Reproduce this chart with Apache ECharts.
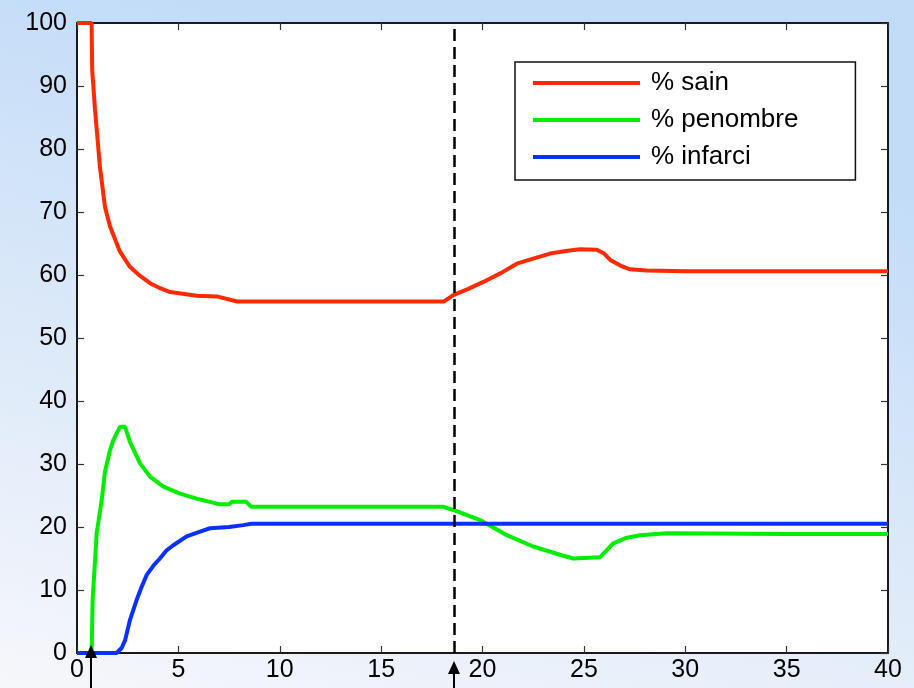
<!DOCTYPE html>
<html>
<head>
<meta charset="utf-8">
<script src="https://cdn.jsdelivr.net/npm/echarts@6/dist/echarts.min.js"></script>
<style>html,body{margin:0;padding:0;}#c{width:914px;height:688px;}</style>
</head>
<body>
<div id="c"></div>
<script>
// ---- data ----
const seriesNames = ['% sain', '% penombre', '% infarci'];
const sainX = [0, 0.72, 0.75, 0.89, 1.13, 1.38, 1.63, 2.12, 2.61, 3.1, 3.6, 4.1, 4.59, 5.9, 6.89, 7.9, 10, 15, 18.1, 18.56, 19.3, 20.04, 20.9, 21.69, 22.5, 23.33, 24.1, 24.8, 25.63, 26.0, 26.3, 26.8, 27.27, 28.1, 30, 35, 40];
const sainY = [100, 100, 92.5, 86.2, 77.2, 70.8, 67.7, 63.7, 61.3, 59.9, 58.7, 57.9, 57.3, 56.7, 56.6, 55.8, 55.8, 55.8, 55.8, 56.8, 57.8, 58.9, 60.3, 61.8, 62.6, 63.4, 63.8, 64.1, 64.0, 63.4, 62.4, 61.5, 60.9, 60.7, 60.6, 60.6, 60.6];
const penX = [0, 0.72, 0.77, 0.97, 1.22, 1.38, 1.63, 1.79, 2.12, 2.37, 2.61, 3.11, 3.6, 4.26, 5.08, 5.9, 7.05, 7.5, 7.65, 8.35, 8.6, 10, 15, 18.07, 18.56, 19.88, 21.2, 22.5, 23.82, 24.48, 25.8, 26.45, 27.11, 27.77, 29.08, 35, 40];
const penY = [0, 0, 8.4, 19, 24.3, 28.8, 32.2, 33.8, 35.9, 35.9, 33.5, 30.1, 28, 26.4, 25.3, 24.5, 23.6, 23.6, 24.0, 24.0, 23.2, 23.2, 23.2, 23.2, 22.7, 21.1, 18.7, 16.9, 15.6, 15.0, 15.2, 17.4, 18.3, 18.7, 19.0, 18.9, 18.9];
const infX = [0, 1.95, 2.2, 2.37, 2.61, 2.94, 3.2, 3.44, 3.8, 4.09, 4.42, 4.75, 5.41, 6.0, 6.56, 7.5, 8.2, 8.6, 40];
const infY = [0, 0, 0.8, 2, 5.2, 8.4, 10.6, 12.4, 14.0, 15.0, 16.3, 17.1, 18.5, 19.2, 19.8, 20.0, 20.3, 20.5, 20.5];
const switchX = 18.6;          // dashed vertical line
const arrowX = [0.7, 18.6];    // arrows under the x axis
const xTicks = { min: 0, max: 40, interval: 5 };
const yTicks = { min: 0, max: 100, interval: 10 };

const colors = ['#ff2a00', '#00ee00', '#0a30ff'];
const pairs = (xs, ys) => xs.map((x, i) => [x, ys[i]]);

const chart = echarts.init(document.getElementById('c'), null, { renderer: 'canvas' });
const FONT = 'Liberation Sans, Arial, Helvetica, sans-serif';
function axisBase(extra) {
  return Object.assign({
    type: 'value',
    axisLine: { show: true, onZero: false, lineStyle: { color: '#1a1a1a', width: 2 } },
    axisTick: { show: true, inside: true, length: 7, lineStyle: { color: '#333', width: 1.2 } },
    splitLine: { show: false }
  }, extra);
}
chart.setOption({
  backgroundColor: new echarts.graphic.LinearGradient(0.2, 0, 0, 1, [
    { offset: 0, color: '#c2dcf8' },
    { offset: 0.5, color: '#dce9f9' },
    { offset: 1, color: '#f6f7fb' }
  ]),
  animation: false,
  grid: { left: 77, right: 26, top: 23, bottom: 35, show: false, containLabel: false },
  xAxis: [
    axisBase({ position: 'bottom', min: xTicks.min, max: xTicks.max, interval: xTicks.interval,
      axisLabel: { color: '#000', fontSize: 25, fontFamily: FONT, margin: 5 } }),
    axisBase({ position: 'top', min: xTicks.min, max: xTicks.max, interval: xTicks.interval,
      axisLabel: { show: false } })
  ],
  yAxis: [
    axisBase({ position: 'left', min: yTicks.min, max: yTicks.max, interval: yTicks.interval,
      axisLabel: { color: '#000', fontSize: 25, fontFamily: FONT, margin: 10 } }),
    axisBase({ position: 'right', min: yTicks.min, max: yTicks.max, interval: yTicks.interval,
      axisLabel: { show: false } })
  ],
  legend: {
    orient: 'vertical', left: 515, top: 62, z: 10,
    padding: [7, 57, 9, 18],
    itemWidth: 107, itemHeight: 4, itemGap: 9, icon: 'rect',
    backgroundColor: '#ffffff', borderColor: '#111', borderWidth: 1.5,
    textStyle: { fontSize: 26, fontFamily: FONT, color: '#000', lineHeight: 28, padding: [0, 0, 0, 6] },
    data: seriesNames
  },
  series: [
    { name: seriesNames[0], type: 'line', data: pairs(sainX, sainY), showSymbol: false, symbol: 'none', clip: false,
      lineStyle: { color: colors[0], width: 4 }, itemStyle: { color: colors[0] },
      markLine: { silent: true, symbol: 'none', label: { show: false },
        lineStyle: { color: '#000', width: 2.5, type: [12, 6] }, data: [{ xAxis: switchX }] } },
    { name: seriesNames[1], type: 'line', data: pairs(penX, penY), showSymbol: false, symbol: 'none', clip: false,
      lineStyle: { color: colors[1], width: 4 }, itemStyle: { color: colors[1] } },
    { name: seriesNames[2], type: 'line', data: pairs(infX, infY), showSymbol: false, symbol: 'none', clip: false,
      lineStyle: { color: colors[2], width: 4 }, itemStyle: { color: colors[2] } }
  ]
});

// plot background and arrows, positioned through the axis scales
const x0 = chart.convertToPixel({ xAxisIndex: 0 }, xTicks.min);
const x1 = chart.convertToPixel({ xAxisIndex: 0 }, xTicks.max);
const y0 = chart.convertToPixel({ yAxisIndex: 0 }, yTicks.min);
const y1 = chart.convertToPixel({ yAxisIndex: 0 }, yTicks.max);
const g = [{ type: 'rect', z: -100, silent: true, shape: { x: x0, y: y1, width: x1 - x0, height: y0 - y1 }, style: { fill: '#ffffff' } }];
const tipOffsets = [-8, 8];
arrowX.forEach((ax, i) => {
  const px = Math.round(chart.convertToPixel({ xAxisIndex: 0 }, ax));
  const tip = y0 + tipOffsets[i];
  g.push({ type: 'line', z: 20, shape: { x1: px, y1: tip + 10, x2: px, y2: 700 }, style: { stroke: '#000', lineWidth: 2 } });
  g.push({ type: 'polygon', z: 21, shape: { points: [[px, tip], [px - 6, tip + 13], [px + 6, tip + 13]] }, style: { fill: '#000' } });
});
chart.setOption({ graphic: g });
</script>
</body>
</html>
